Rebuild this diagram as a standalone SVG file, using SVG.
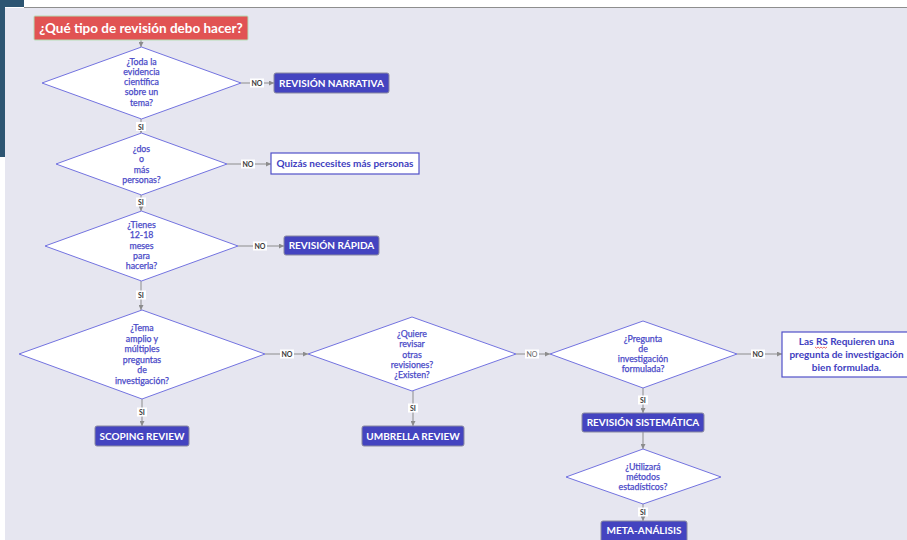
<svg xmlns="http://www.w3.org/2000/svg" width="907" height="540" viewBox="0 0 907 540">
<defs>
<style>
.bg{fill:#E6E6F0}
.dia{fill:#FFFFFF;stroke:#7373E0;stroke-width:1}
.dt{font-family:Lato,"Liberation Sans",sans-serif;font-size:8.8px;font-weight:normal;fill:#4A4AC8;stroke:#4A4AC8;stroke-width:0.25;text-anchor:middle}
.box{fill:#4444C0;stroke:#8A8AA0;stroke-width:1}
.bt{font-family:Lato,"Liberation Sans",sans-serif;font-size:10px;font-weight:bold;fill:#FFFFFF;text-anchor:middle}
.wbox{fill:#FFFFFF;stroke:#5050C8;stroke-width:1.2}
.wt{font-family:Lato,"Liberation Sans",sans-serif;font-size:10px;font-weight:bold;fill:#4040C0;text-anchor:middle}
.ln{stroke:#8C8C8C;stroke-width:1;fill:none;marker-end:url(#ah)}
.lb{fill:#FFFFFF}
.lt{font-family:Lato,"Liberation Sans",sans-serif;font-size:7px;font-weight:bold;fill:#3A3A3A;text-anchor:middle}
</style>
<marker id="ah" viewBox="0 0 10 10" refX="10" refY="5" markerWidth="5" markerHeight="5" orient="auto" markerUnits="userSpaceOnUse">
<path d="M0,0 L10,5 L0,10 z" fill="#8C8C8C"/>
</marker>
</defs>

<!-- background -->
<rect x="0" y="0" width="907" height="540" fill="#FFFFFF"/>
<rect class="bg" x="5" y="8" width="902" height="532"/>
<line x1="24" y1="7.5" x2="907" y2="7.5" stroke="#8E8E8E" stroke-width="1.2"/>
<rect x="0" y="0" width="24" height="7" fill="#2D5572"/>
<rect x="0" y="0" width="5" height="157" fill="#2D5572"/>

<!-- connectors -->
<g id="connectors">
<line class="ln" x1="141" y1="40" x2="141" y2="47"/>
<line class="ln" x1="241" y1="83" x2="274" y2="83"/>
<rect class="lb" x="250" y="78.5" width="14" height="9"/><text class="lt" x="257" y="85.5">NO</text>
<line class="ln" x1="141" y1="119" x2="141" y2="133"/>
<rect class="lb" x="136" y="122" width="10" height="9"/><text class="lt" x="141" y="129.5">SI</text>
<line class="ln" x1="227" y1="164" x2="271" y2="164"/>
<rect class="lb" x="241" y="159.5" width="14" height="9"/><text class="lt" x="248" y="166.5">NO</text>
<line class="ln" x1="141" y1="195" x2="141" y2="211"/>
<rect class="lb" x="136" y="197.5" width="10" height="9"/><text class="lt" x="141" y="205">SI</text>
<line class="ln" x1="238" y1="246" x2="284" y2="246"/>
<rect class="lb" x="253" y="241.5" width="14" height="9"/><text class="lt" x="260" y="248.5">NO</text>
<line class="ln" x1="141" y1="281" x2="141" y2="310"/>
<rect class="lb" x="136" y="290.5" width="10" height="9"/><text class="lt" x="141" y="298">SI</text>
<line class="ln" x1="265" y1="354" x2="308" y2="354"/>
<rect class="lb" x="280" y="349.5" width="14" height="9"/><text class="lt" x="287" y="356.5">NO</text>
<line class="ln" x1="142" y1="399" x2="142" y2="426"/>
<rect class="lb" x="137" y="407.5" width="10" height="9"/><text class="lt" x="142" y="415">SI</text>
<line class="ln" x1="516" y1="354" x2="550" y2="354"/>
<rect class="lb" x="525" y="349.5" width="14" height="9"/><text class="lt" x="532" y="356.5" style="font-weight:normal;fill:#666">NO</text>
<line class="ln" x1="413" y1="391" x2="413" y2="426"/>
<rect class="lb" x="408" y="403.5" width="10" height="9"/><text class="lt" x="413" y="411">SI</text>
<line class="ln" x1="737" y1="354" x2="782" y2="354"/>
<rect class="lb" x="751" y="349.5" width="14" height="9"/><text class="lt" x="758" y="356.5">NO</text>
<line class="ln" x1="643" y1="388" x2="643" y2="413"/>
<rect class="lb" x="638" y="395.5" width="10" height="9"/><text class="lt" x="643" y="403">SI</text>
<line class="ln" x1="643" y1="432" x2="643" y2="449"/>
<line class="ln" x1="643" y1="504" x2="643" y2="521"/>
<rect class="lb" x="638" y="507.5" width="10" height="9"/><text class="lt" x="643" y="515">SI</text>
</g>

<!-- title -->
<g id="title">
<rect x="34" y="16" width="214" height="24" rx="1" fill="#E15353" stroke="#B5DDB5" stroke-width="1"/>
<text x="141" y="33" font-family="Lato,'Liberation Sans',sans-serif" font-size="13.5" font-weight="bold" fill="#FFFFFF" text-anchor="middle">¿Qué tipo de revisión debo hacer?</text>
</g>

<g id="d1">
<polygon class="dia" points="141.5,47 241,83 141.5,119 42,83"/>
<text class="dt" x="141.5" y="65">¿Toda la</text>
<text class="dt" x="141.5" y="75">evidencia</text>
<text class="dt" x="141.5" y="85">científica</text>
<text class="dt" x="141.5" y="95">sobre un</text>
<text class="dt" x="141.5" y="105.5">tema?</text>
</g>
<g id="n-narrativa">
<rect class="box" x="274" y="73" width="115" height="20" rx="2"/>
<text class="bt" x="331.5" y="86.5">REVISIÓN NARRATIVA</text>
</g>

<g id="d2">
<polygon class="dia" points="141.5,133 227,164 141.5,195 56,164"/>
<text class="dt" x="141.5" y="152">¿dos</text>
<text class="dt" x="141.5" y="162">o</text>
<text class="dt" x="141.5" y="172.5">más</text>
<text class="dt" x="141.5" y="183">personas?</text>
</g>
<g id="n-personas">
<rect class="wbox" x="271" y="153" width="148" height="21"/>
<text class="wt" x="345" y="167">Quizás necesites más personas</text>
</g>

<g id="d3">
<polygon class="dia" points="141.5,211 238,246 141.5,281 45,246"/>
<text class="dt" x="141.5" y="228">¿Tienes</text>
<text class="dt" x="141.5" y="238">12-18</text>
<text class="dt" x="141.5" y="248.5">meses</text>
<text class="dt" x="141.5" y="259">para</text>
<text class="dt" x="141.5" y="269">hacerla?</text>
</g>
<g id="n-rapida">
<rect class="box" x="284" y="236" width="95" height="19" rx="2"/>
<text class="bt" x="331.5" y="249">REVISIÓN RÁPIDA</text>
</g>

<g id="d4">
<polygon class="dia" points="142,310 265,354 142,399 19,354"/>
<text class="dt" x="142" y="331">¿Tema</text>
<text class="dt" x="142" y="341.5">amplio y</text>
<text class="dt" x="142" y="352">múltiples</text>
<text class="dt" x="142" y="362.5">preguntas</text>
<text class="dt" x="142" y="373">de</text>
<text class="dt" x="142" y="383.5">investigación?</text>
</g>
<g id="n-scoping">
<rect class="box" x="95" y="426" width="94" height="20" rx="2"/>
<text class="bt" x="142" y="439.5">SCOPING REVIEW</text>
</g>

<g id="d5">
<polygon class="dia" points="412,317 516,354 412,391 308,354"/>
<text class="dt" x="412" y="337">¿Quiere</text>
<text class="dt" x="412" y="347">revisar</text>
<text class="dt" x="412" y="357.5">otras</text>
<text class="dt" x="412" y="368">revisiones?</text>
<text class="dt" x="412" y="378">¿Existen?</text>
</g>
<g id="n-umbrella">
<rect class="box" x="362" y="426" width="102" height="20" rx="2"/>
<text class="bt" x="413" y="439.5">UMBRELLA REVIEW</text>
</g>

<g id="d6">
<polygon class="dia" points="643,321 737,354 643,388 550,354"/>
<text class="dt" x="643" y="342">¿Pregunta</text>
<text class="dt" x="643" y="352">de</text>
<text class="dt" x="643" y="362">investigación</text>
<text class="dt" x="643" y="372">formulada?</text>
</g>
<g id="n-rsreq">
<rect class="wbox" x="782" y="332" width="130" height="45"/>
<text class="wt" x="846.5" y="345">Las RS Requieren una</text>
<text class="wt" x="846.5" y="358">pregunta de investigación</text>
<text class="wt" x="846.5" y="371">bien formulada.</text>
<path d="M815,347 l1.5,1.2 l1.5,-1.2 l1.5,1.2 l1.5,-1.2 l1.5,1.2 l1.5,-1.2 l1.5,1.2 l1.5,-1.2" stroke="#E03030" stroke-width="0.7" fill="none"/>
</g>
<g id="n-sistematica">
<rect class="box" x="582" y="413" width="122" height="19" rx="2"/>
<text class="bt" x="643" y="426">REVISIÓN SISTEMÁTICA</text>
</g>

<g id="d7">
<polygon class="dia" points="643,449 721,477 643,504 566,477"/>
<text class="dt" x="643" y="469.5">¿Utilizará</text>
<text class="dt" x="643" y="479.5">métodos</text>
<text class="dt" x="643" y="489.5">estadísticos?</text>
</g>
<g id="n-meta">
<rect class="box" x="601" y="521" width="86" height="22" rx="2"/>
<text class="bt" x="644" y="534">META-ANÁLISIS</text>
</g>
</svg>
